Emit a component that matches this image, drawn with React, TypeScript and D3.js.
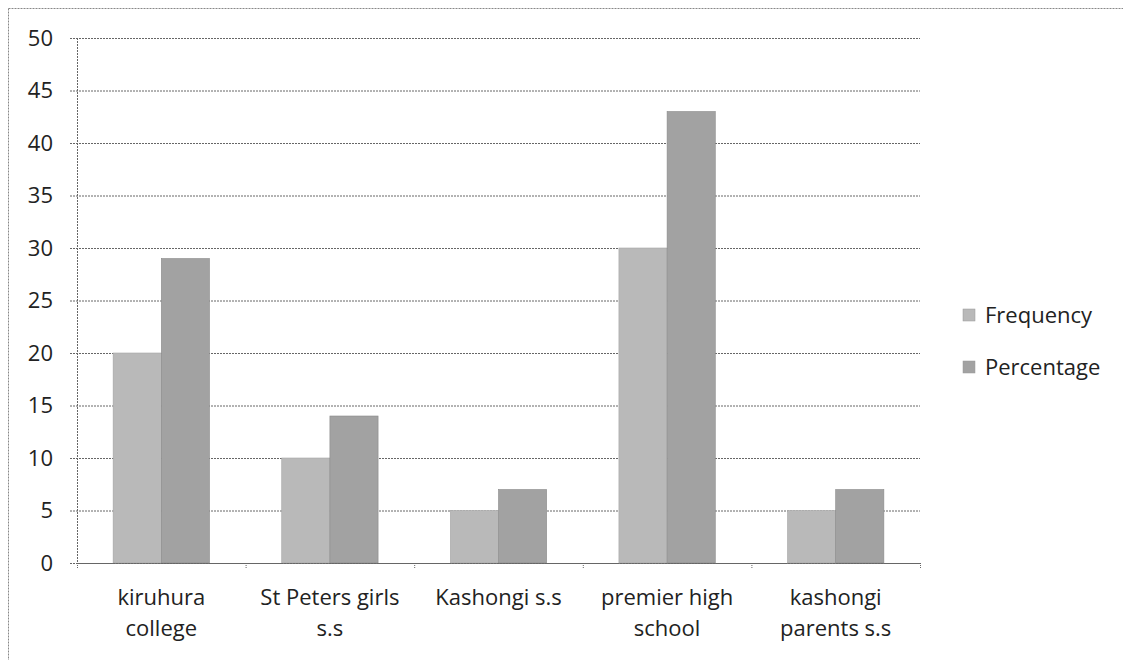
import * as d3 from 'd3';
import React from 'react';

// values
const schools = [
  ['kiruhura', 'college'],
  ['St Peters girls', 's.s'],
  ['Kashongi s.s'],
  ['premier high', 'school'],
  ['kashongi', 'parents s.s'],
];
const frequency = [20, 10, 5, 30, 5];
const percentage = [29, 14, 7, 43, 7];
const seriesNames = ['Frequency', 'Percentage'];
const yTicks = d3.range(0, 51, 5);

const W = 1123;
const H = 660;
const font = "'Open Sans', 'Liberation Sans', sans-serif";
const fontSize = 22;
const fills = ['#b9b9b9', '#a2a2a2'];

function App() {
  // --------------------------------------------------------
  // plot area and scales
  // --------------------------------------------------------
  const left = 77, right = 920, top = 38, bottom = 563;

  const x = d3.scaleBand()
    .domain(schools.map((_, i) => String(i)))
    .range([left, right]);

  // gap between groups ~150% of a bar
  const inner = d3.scaleBand()
    .domain(seriesNames)
    .range([0, x.bandwidth()])
    .paddingOuter(0.75);

  const y = d3.scaleLinear([0, 50], [bottom, top]);

  const series = [frequency, percentage];

  return (
    <div style={{ position: 'fixed', left: 0, top: 0 }}>
      <svg width={W} height={H} style={{ display: 'block', background: '#fff' }}>
        {/* outer chart border (scan only shows top and left) */}
        <line x1={8.5} x2={W} y1={8.5} y2={8.5} stroke="#888" strokeDasharray="2,1" />
        <line x1={8.5} x2={8.5} y1={8.5} y2={H} stroke="#888" strokeDasharray="2,1" />

        {/* gridlines + y ticks */}
        {yTicks.map(t => (
          <g key={t}>
            <line x1={70} x2={right} y1={y(t) + 0.5} y2={y(t) + 0.5}
              stroke="#666" strokeDasharray="2,1" />
            <text x={53} y={y(t)} dy="0.35em" textAnchor="end"
              fontFamily={font} fontSize={fontSize} fill="#222">{t}</text>
          </g>
        ))}
        <line x1={left + 0.5} x2={left + 0.5} y1={top} y2={bottom}
          stroke="#666" strokeDasharray="2,1" />

        {/* bars */}
        {schools.map((_, i) => (
          <g key={i} transform={`translate(${x(String(i))},0)`}>
            {seriesNames.map((s, k) => (
              <rect key={s}
                x={inner(s)}
                y={y(series[k][i])}
                width={inner.bandwidth()}
                height={bottom - y(series[k][i])}
                fill={fills[k]}
                stroke={k === 1 ? '#8a8a8a' : '#a5a5a5'}
                strokeWidth={0.6} />
            ))}
          </g>
        ))}

        {/* bottom axis */}
        <line x1={left} x2={right} y1={bottom + 0.5} y2={bottom + 0.5}
          stroke="#666" strokeDasharray="2,1" />
        {d3.range(schools.length + 1).map(i => {
          const xx = left + i * x.step();
          return <line key={i} x1={xx + 0.5} x2={xx + 0.5} y1={bottom} y2={bottom + 6}
            stroke="#666" strokeDasharray="1,1" />;
        })}
        {schools.map((lines, i) => (
          <text key={i} x={x(String(i))! + x.bandwidth() / 2} y={605}
            textAnchor="middle" fontFamily={font} fontSize={fontSize} fill="#222">
            {lines.map((l, j) => (
              <tspan key={j} x={x(String(i))! + x.bandwidth() / 2} dy={j === 0 ? 0 : 31}>{l}</tspan>
            ))}
          </text>
        ))}

        {/* legend */}
        {seriesNames.map((s, k) => (
          <g key={s} transform={`translate(963,${315 + k * 52})`}>
            <rect x={0} y={-6} width={12} height={12} fill={fills[k]} stroke="#999" strokeWidth={0.5} />
            <text x={22} y={0} dy="0.35em" fontFamily={font} fontSize={fontSize} fill="#222">{s}</text>
          </g>
        ))}
      </svg>
    </div>
  );
}

export default App;
